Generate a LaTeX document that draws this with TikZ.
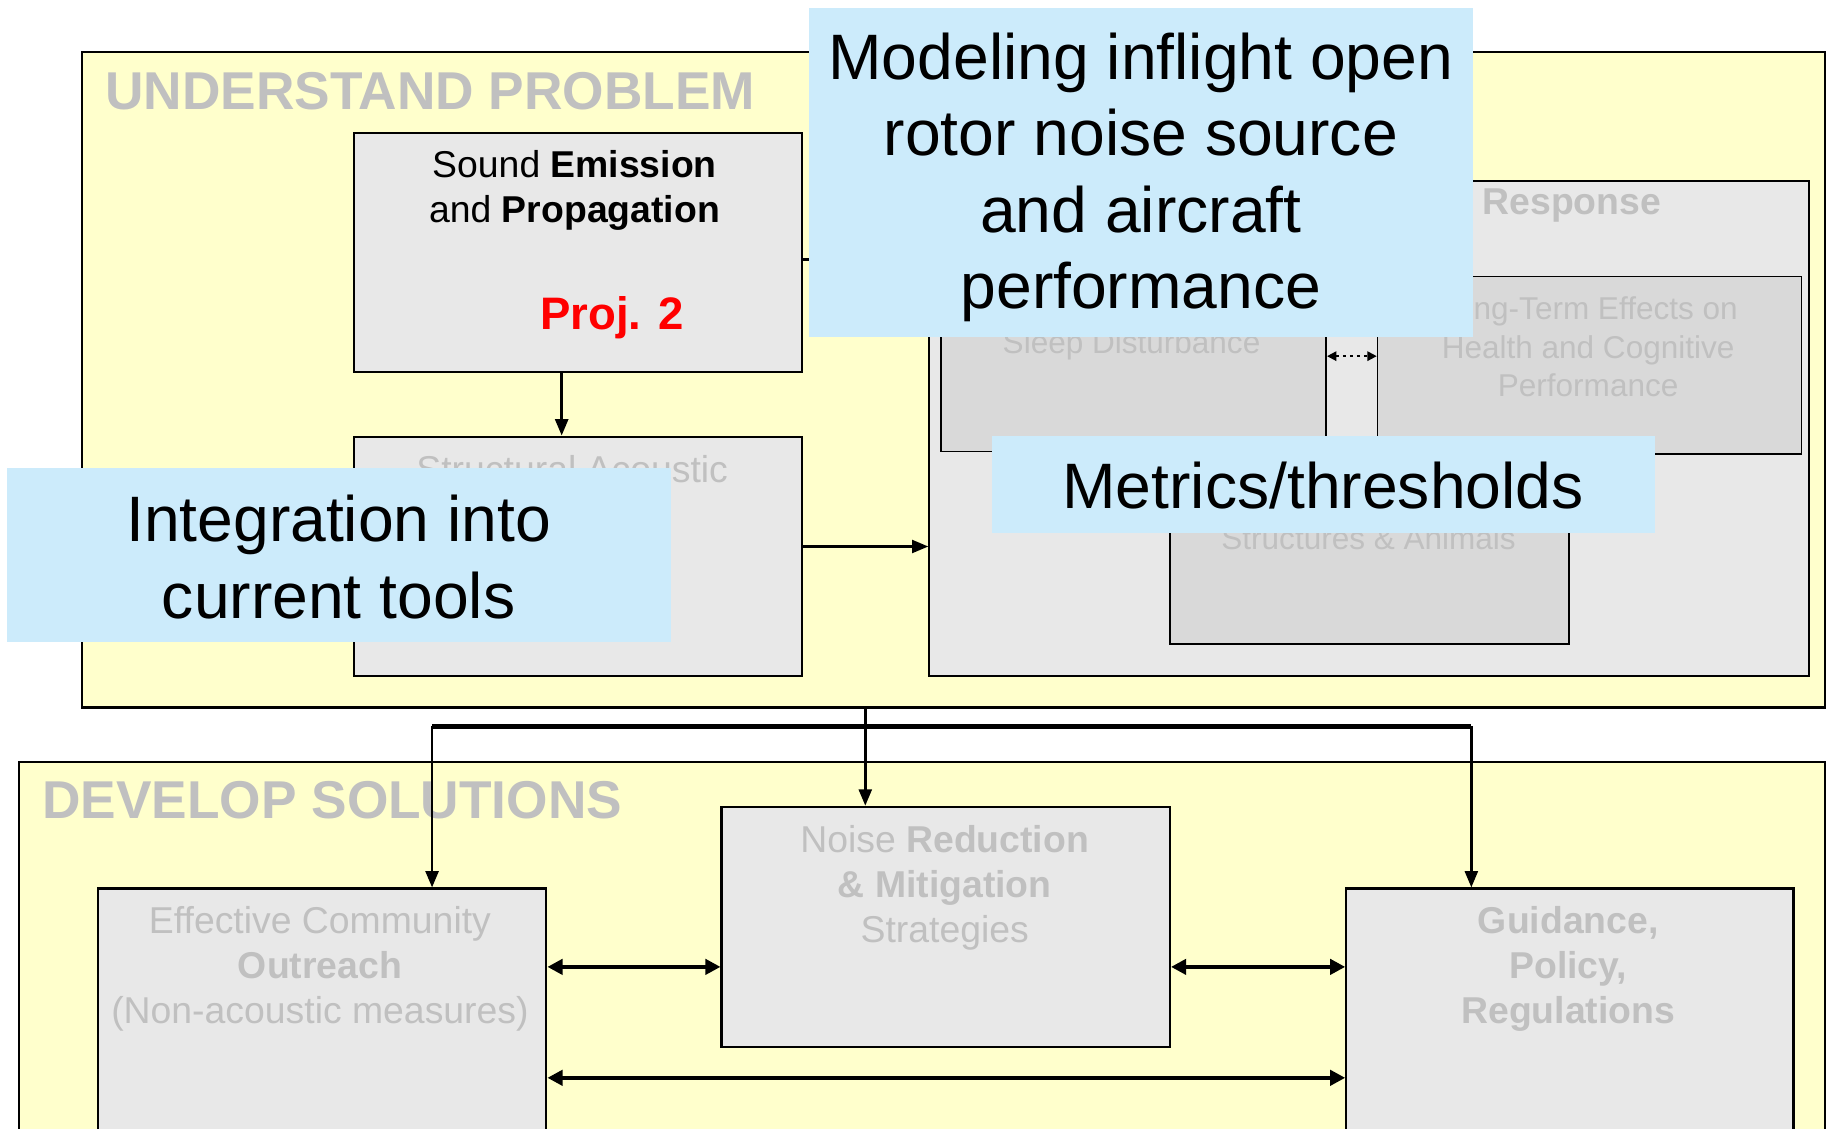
\documentclass[tikz,border=0pt]{standalone}
\usepackage{fontspec}
\setmainfont{Liberation Sans}
\usetikzlibrary{arrows.meta,calc}
\definecolor{yel}{HTML}{FFFFCC}
\definecolor{boxg}{HTML}{E8E8E8}
\definecolor{innerg}{HTML}{D9D9D9}
\definecolor{txtg}{HTML}{C0C0C0}
\definecolor{skyb}{HTML}{CCEBFB}
\definecolor{projred}{HTML}{FF0000}
\begin{document}
\begin{tikzpicture}[x=1pt,y=-1pt,
  panel/.style={draw=black, line width=1.8pt, fill=yel, anchor=north west, inner sep=0pt},
  gbox/.style={draw=black, line width=1.8pt, fill=boxg, anchor=north west, inner sep=0pt},
  ibox/.style={draw=black, line width=1.4pt, fill=innerg, anchor=north west, inner sep=0pt},
  note/.style={fill=skyb, anchor=north west, inner sep=0pt},
  title/.style={text=txtg, font=\fontsize{45.6}{54}\selectfont\bfseries, anchor=base west, inner sep=0pt},
  lbl/.style={text=txtg, font=\fontsize{32}{38.5}\selectfont, align=center, inner sep=0pt},
  slbl/.style={text=txtg, font=\fontsize{27}{33}\selectfont, align=center, inner sep=0pt},
  big/.style={font=\fontsize{55}{65.5}\selectfont, align=center, inner sep=0pt},
  arr/.style={line width=2.4pt, -{Triangle[length=14pt,width=11pt]}},
  darr/.style={line width=3.5pt, {Triangle[length=13pt,width=13pt]}-{Triangle[length=13pt,width=13pt]}},
  sarr/.style={line width=1.6pt, dashed, {Triangle[length=8pt,width=8pt]}-{Triangle[length=8pt,width=8pt]}},
]
\useasboundingbox (0,0) rectangle (1568,966);
\fill[white] (0,0) rectangle (1568,966);

% panels
\node[panel, minimum width=1493pt, minimum height=561pt] (up) at (69,44) {};
\node[title] (upt) at (90,94) {UNDERSTAND PROBLEM};
\node[panel, minimum width=1547pt, minimum height=340pt] (dev) at (15,652) {};
\node[title] (devt) at (36,701) {DEVELOP SOLUTIONS};

% understand boxes
\node[gbox, minimum width=384pt, minimum height=205pt] (se) at (302,113) {};
\node[gbox, minimum width=384pt, minimum height=205pt] (sa) at (302,373) {};
\node[gbox, minimum width=753pt, minimum height=424pt] (resp) at (795,154) {};
\node[ibox, minimum width=330pt, minimum height=150pt] (sleep) at (805,236) {};
\node[ibox, minimum width=363pt, minimum height=152pt] (lt) at (1179,236) {};
\node[ibox, minimum width=342pt, minimum height=151pt] (sta) at (1001,400) {};

\node[lbl, text=black] (set) at (492,163) {Sound \textbf{Emission}\\and \textbf{Propagation}};
\node[text=projred, font=\fontsize{39}{46}\selectfont\bfseries, inner sep=0pt] (proj) at (524,272) {Proj. 2};
\node[lbl] (sat) at (490,402) {Structural Acoustic};
\node[lbl, font=\fontsize{32}{38.5}\selectfont\bfseries] (respt) at (1346,176) {Response};
\node[slbl] (sleept) at (969,296) {Sleep Disturbance};
\node[slbl] (ltt) at (1360,297) {Long-Term Effects on\\Health and Cognitive\\Performance};
\node[slbl] (stat) at (1172,461) {Structures \& Animals};

% develop boxes
\node[gbox, minimum width=384pt, minimum height=260pt] (ec) at (83,760) {};
\node[gbox, minimum width=384pt, minimum height=206pt] (nr) at (617,690) {};
\node[gbox, minimum width=383pt, minimum height=260pt] (gd) at (1152,760) {};
\node[lbl] (ect) at (274,830) {Effective Community\\\textbf{Outreach}\\(Non-acoustic measures)};
\node[lbl] (nrt) at (809,760) {Noise \textbf{Reduction}\\\textbf{\& Mitigation}\\Strategies};
\node[lbl, font=\fontsize{32}{38.5}\selectfont\bfseries] (gdt) at (1343,830) {Guidance,\\Policy,\\Regulations};

% coordinates
\coordinate (c481) at (481,0);
\coordinate (c222) at (0,222);
\coordinate (c468) at (0,468);
\coordinate (c305) at (0,305);
\coordinate (c741) at (741,0);
\coordinate (cL) at (370,622);
\coordinate (cR) at (1260,622);
\coordinate (c828) at (0,828);
\coordinate (c923) at (0,923);

% connectors
\draw[arr] (se.south -| c481) -- (sa.north -| c481);
\draw[arr] (se.east |- c222) -- (resp.west |- c222);
\draw[arr] (sa.east |- c468) -- (resp.west |- c468);
\draw[sarr] (sleep.east |- c305) -- (lt.west |- c305);
\draw[arr] (up.south -| c741) -- (nr.north -| c741);
\draw[line width=4pt] (cL) -- (cR);
\draw[arr] (cL) -- (ec.north -| cL);
\draw[arr] (cR) -- (gd.north -| cR);
\draw[darr] (ec.east |- c828) -- (nr.west |- c828);
\draw[darr] (nr.east |- c828) -- (gd.west |- c828);
\draw[darr] (ec.east |- c923) -- (gd.west |- c923);

% blue notes
\node[note, minimum width=568pt, minimum height=281pt] (mod) at (693,7) {};
\node[big] (modt) at (977,152) {Modeling inflight open\\rotor noise source\\and aircraft\\performance};
\node[note, minimum width=568pt, minimum height=149pt] (intg) at (6,401) {};
\node[big] (intgt) at (290,477) {Integration into\\current tools};
\node[note, minimum width=568pt, minimum height=83pt] (met) at (849,373) {};
\node[big] (mett) at (1133,416) {Metrics/thresholds};
\end{tikzpicture}
\end{document}
